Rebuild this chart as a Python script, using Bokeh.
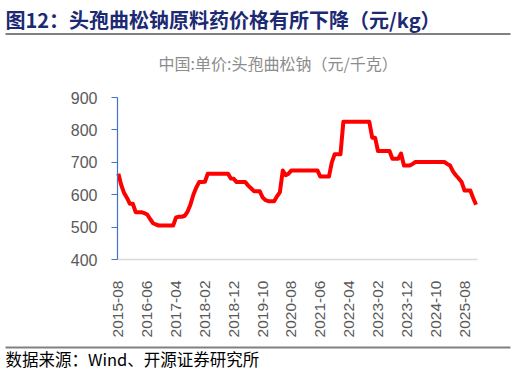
import math
from bokeh.plotting import figure
from bokeh.models import Range1d, FixedTicker, Label, Arrow, LinearAxis
from bokeh.embed import file_html
from bokeh.resources import INLINE

# ---- data (monthly, from 2015-08) ----
price = [
    665, 630, 605, 590, 572, 572, 546, 546, 546, 543,
    539, 525, 512, 508, 505, 505, 505, 505, 505, 505,
    530, 532, 532, 535, 548, 570, 600, 622, 639, 639,
    640, 665, 665, 665, 665, 665, 665, 665, 665, 650,
    649, 639, 639, 639, 639, 628, 620, 611, 611, 611,
    592, 583, 580, 580, 580, 595, 608, 675, 660, 665,
    675, 675, 675, 675, 675, 675, 675, 675, 675, 675,
    656, 656, 656, 656, 700, 725, 725, 725, 825, 825,
    825, 825, 825, 825, 825, 825, 825, 825, 776, 776,
    735, 735, 735, 735, 735, 711, 711, 711, 727, 690,
    690, 690, 695, 701, 701, 701, 701, 701, 701, 701,
    701, 701, 701, 701, 695, 690, 672, 660, 650, 639,
    613, 613, 613, 590, 569,
]
month_index = list(range(len(price)))
tick_positions = [0, 10, 20, 30, 40, 50, 60, 70, 80, 90, 100, 110, 120]
tick_labels = ["2015-08", "2016-06", "2017-04", "2018-02", "2018-12", "2019-10",
               "2020-08", "2021-06", "2022-04", "2023-02", "2023-12", "2024-10", "2025-08"]
y_ticks = [400, 500, 600, 700, 800, 900]
x_lo, x_hi = -0.3, 124.5
y_lo, y_hi = 400, 900

title_text = "图12：头孢曲松钠原料药价格有所下降（元/kg）"
subtitle_text = "中国:单价:头孢曲松钠（元/千克）"
source_text = "数据来源：Wind、开源证券研究所"

W, H = 515, 377
PL, PR, PT, PB = 117, 477, 97, 259   # plot-area edges in page pixels
CJK = "Noto Sans CJK SC"

# the frame covers the whole page; ranges chosen so that the data window lands on the plot area
kx = (x_hi - x_lo) / (PR - PL)
ky = (y_hi - y_lo) / (PB - PT)
x_range = Range1d(x_lo - PL * kx, x_hi + (W - PR) * kx)
y_range = Range1d(y_lo - (H - PB) * ky, y_hi + PT * ky)

p = figure(width=W, height=H, x_range=x_range, y_range=y_range,
           x_axis_location=None, y_axis_location=None, min_border=0,
           output_backend="svg", toolbar_location=None)
p.grid.visible = False
p.outline_line_color = None
p.line(month_index, price, line_color="#FF0000", line_width=4, line_join="round")

ya = LinearAxis(fixed_location=x_lo, bounds=(y_lo, y_hi), ticker=FixedTicker(ticks=y_ticks))
ya.axis_line_color = "#4472C4"
ya.axis_line_width = 1.2
ya.major_tick_line_color = "#4472C4"
ya.major_tick_out = 6
ya.major_tick_in = 0
ya.minor_tick_line_color = None
ya.major_label_text_font = "Liberation Sans"
ya.major_label_text_font_size = "16px"
ya.major_label_text_color = "#595959"
ya.major_label_standoff = 14
p.add_layout(ya, "left")

xa = LinearAxis(fixed_location=y_lo, bounds=(x_lo, x_hi), ticker=FixedTicker(ticks=tick_positions))
xa.major_label_overrides = {t: l for t, l in zip(tick_positions, tick_labels)}
xa.major_label_orientation = math.pi / 2
xa.axis_line_color = "#D9D9D9"
xa.axis_line_width = 1.5
xa.major_tick_line_color = None
xa.minor_tick_line_color = None
xa.major_label_text_font = "Liberation Sans"
xa.major_label_text_font_size = "15.5px"
xa.major_label_text_color = "#595959"
xa.major_label_standoff = 15
p.add_layout(xa, "below")


def label(px, py, text, size, color, style="normal"):
    p.add_layout(Label(x=px, y=H - py, x_units="screen", y_units="screen", text=text,
                       text_font=CJK, text_font_size=size, text_color=color,
                       text_font_style=style, text_baseline="middle", text_align="left"))


def rule(px0, px1, py):
    p.add_layout(Arrow(end=None, x_start=px0, y_start=H - py, x_end=px1, y_end=H - py,
                       start_units="screen", end_units="screen",
                       line_color="#808080", line_width=2))


label(5, 19, title_text, "20px", "#1C2A73", "bold")
rule(5, 510, 33.5)
label(158, 62, subtitle_text, "16px", "#8C8C8C")
rule(5, 510, 347)
label(5, 358, source_text, "16.5px", "#000000")

open("out.html", "w").write(file_html(p, INLINE))
